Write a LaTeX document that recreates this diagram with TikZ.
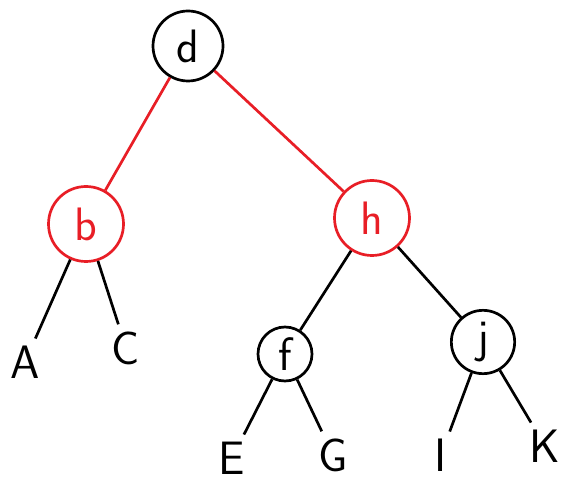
\documentclass[tikz,border=0pt]{standalone}
\definecolor{redlink}{RGB}{232,30,38}
\begin{document}
\begin{tikzpicture}[x=0.03cm, y=-0.03cm, line width=2.3pt,
    nodes={font=\fontsize{40}{40}\selectfont\sffamily},
    black node/.style={draw, circle, inner sep=0pt},
    red node/.style={draw=redlink, text=redlink, circle, inner sep=0pt},
    leaf/.style={inner sep=5pt}]
 \useasboundingbox (0,0) rectangle (561,483);
 \node[black node, minimum size=2.1cm] (d) at (188,46) {d};
 \node[red node, minimum size=2.25cm] (b) at (86,224) {b};
 \node[red node, minimum size=2.25cm] (h) at (372,218) {h};
 \node[black node, minimum size=1.62cm] (f) at (285,354) {f};
 \node[black node, minimum size=1.9cm] (j) at (483,342) {j};
 \node[leaf] (A) at (25,362) {A};
 \node[leaf] (C) at (126,348) {C};
 \node[leaf] (E) at (232,458) {E};
 \node[leaf] (G) at (333,455) {G};
 \node[leaf] (I) at (441,455) {I};
 \node[leaf] (K) at (545,446) {K};
 \draw[redlink] (d) -- (b);
 \draw[redlink] (d) -- (h);
 \draw (b) -- (A);
 \draw (b) -- (C);
 \draw (h) -- (f);
 \draw (h) -- (j);
 \draw (f) -- (E);
 \draw (f) -- (G);
 \draw (j) -- (I);
 \draw (j) -- (K);
\end{tikzpicture}
\end{document}
